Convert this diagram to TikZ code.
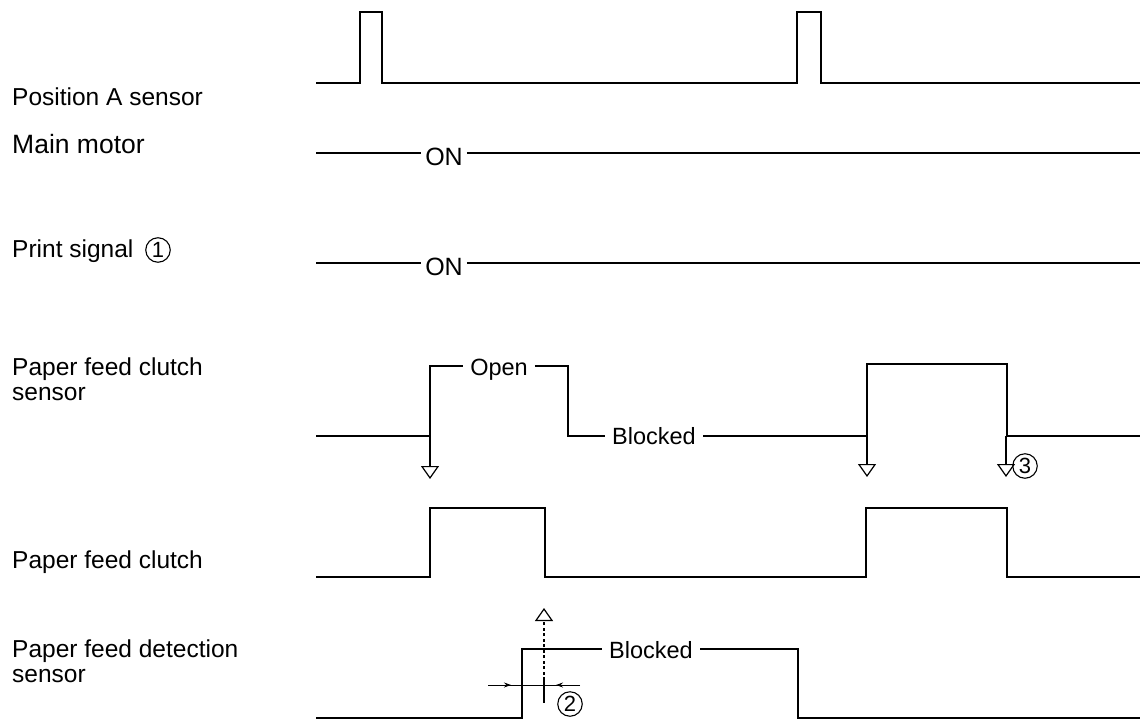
\documentclass[tikz,border=0pt]{standalone}
\usepackage{fontspec}
\setmainfont{Liberation Sans}
\usetikzlibrary{arrows.meta}
\begin{document}
\begin{tikzpicture}[x=1pt,y=-1pt,
  sig/.style={line width=2.4pt},
  thinln/.style={line width=1.2pt},
  lab/.style={anchor=base west, inner sep=0pt, font=\fontsize{24.5}{25}\selectfont, align=left},
  biglab/.style={anchor=base west, inner sep=0pt, font=\fontsize{26.5}{28}\selectfont},
  ontxt/.style={anchor=base, inner xsep=4pt, inner ysep=0pt, font=\fontsize{25}{27}\selectfont},
  midtxt/.style={anchor=base, inner xsep=7pt, inner ysep=0pt, font=\fontsize{23.5}{25}\selectfont},
  circnum/.style={circle, draw, line width=1.1pt, inner sep=0pt, minimum size=24.5pt, font=\fontsize{22}{22}\selectfont},
  downarr/.style={thinln, -{Triangle[open, length=13pt, width=18pt, line width=1.2pt]}},
  dimarr/.style={line width=1pt, -{Stealth[length=7pt, width=5pt]}}
]
\useasboundingbox (0,0) rectangle (1142,720);

% ---------- labels ----------
\node[lab] (lA) at (12,105) {Position A sensor};
\node[biglab] (lM) at (12,153) {Main motor};
\node[lab] (lP) at (12,257) {Print signal};
\node[circnum] (c1) at (158,250) {1};
\node[lab] (lCS) at (12,400) {Paper feed clutch\\sensor};
\node[lab] (lC) at (12,568) {Paper feed clutch};
\node[lab] (lD) at (12,682) {Paper feed detection\\sensor};

% ---------- Position A sensor ----------
\draw[sig] (316,83) -- (360,83) -- (360,12) -- (382,12) -- (382,83)
  -- (797,83) -- (797,12) -- (821,12) -- (821,83) -- (1140,83);

% ---------- Main motor ----------
\coordinate (m1) at (316,153);
\coordinate (m2) at (1140,153);
\node[ontxt] (on1) at (444,165) {ON};
\draw[sig] (m1) -- (m1 -| on1.west);
\draw[sig] (m2 -| on1.east) -- (m2);

% ---------- Print signal ----------
\coordinate (p1) at (316,263);
\coordinate (p2) at (1140,263);
\node[ontxt] (on2) at (444,275) {ON};
\draw[sig] (p1) -- (p1 -| on2.west);
\draw[sig] (p2 -| on2.east) -- (p2);

% ---------- Paper feed clutch sensor ----------
\node[midtxt] (open) at (499,375) {Open};
\node[midtxt] (blk1) at (654,444) {Blocked};
\coordinate (s0) at (316,436);
\coordinate (s1) at (430,436);
\coordinate (s1t) at (430,366);
\coordinate (s2t) at (568,366);
\coordinate (s2) at (568,436);
\coordinate (s3) at (867,436);
\coordinate (s4) at (1007,436);
\coordinate (s5) at (1140,436);
\draw[sig] (s0) -- (s1) -- (s1t) -- (s1t -| open.west);
\draw[sig] (s2t -| open.east) -- (s2t) -- (s2) -- (s2 -| blk1.west);
\draw[sig] (s2 -| blk1.east) -- (s3) -- (867,364) -- (1007,364) -- (s4) -- (s5);

\coordinate (a1) at (430,479);
\coordinate (a2) at (867,477);
\coordinate (a3) at (1006,477);
\draw[downarr] (s1) -- (a1);
\draw[downarr] (s3) -- (a2);
\draw[downarr] (1006,436) -- (a3);
\node[circnum] (c3) at (1025,466) {3};

% ---------- Paper feed clutch ----------
\draw[sig] (316,577) -- (430,577) -- (430,508) -- (545,508) -- (545,577)
  -- (866,577) -- (866,508) -- (1007,508) -- (1007,577) -- (1140,577);

% ---------- Paper feed detection sensor ----------
\node[midtxt] (blk2) at (651,658) {Blocked};
\coordinate (d0) at (316,718);
\coordinate (d1) at (522,718);
\coordinate (d1t) at (522,649);
\coordinate (d2t) at (798,649);
\coordinate (d2) at (798,718);
\coordinate (d3) at (1140,718);
\draw[sig] (d0) -- (d1) -- (d1t) -- (d1t -| blk2.west);
\draw[sig] (d2t -| blk2.east) -- (d2t) -- (d2) -- (d3);

% dotted up arrow
\coordinate (u0) at (544,680);
\coordinate (u1) at (544,608);
\coordinate (u2) at (544,703);
\draw[thinln, dash pattern=on 3pt off 2.5pt,
  -{Triangle[open, length=13pt, width=18pt, line width=1.2pt]}] (u0) -- (u1);
\draw[thinln] (u0) -- (u2);

% dimension marks
\coordinate (h0) at (488,685);
\coordinate (h1) at (580,685);
\draw[line width=1pt] (h0) -- (h1);
\draw[dimarr] (h0) -- (511,685);
\draw[dimarr] (h1) -- (556,685);
\node[circnum] (c2) at (570,704) {2};

\end{tikzpicture}
\end{document}
